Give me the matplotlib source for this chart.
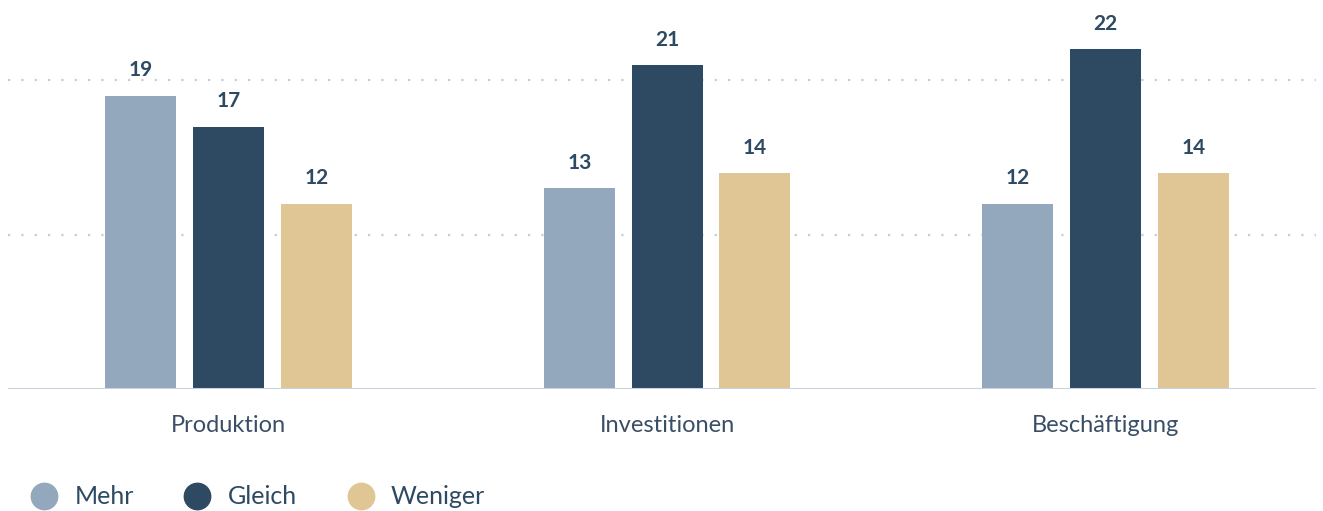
import matplotlib
matplotlib.use("Agg")
import matplotlib.pyplot as plt
from matplotlib.lines import Line2D
import numpy as np

plt.rcParams['font.family'] = ['Lato', 'DejaVu Sans']

categories = ["Produktion", "Investitionen", "Beschäftigung"]
series_names = ["Mehr", "Gleich", "Weniger"]
mehr = [19, 13, 12]
gleich = [17, 21, 22]
weniger = [12, 14, 14]
colors = ["#93a8bc", "#2e4a63", "#e0c595"]
text_color = "#2e4a63"

W, H = 1323, 511
fig = plt.figure(figsize=(W / 100, H / 100), dpi=100)
ax = fig.add_axes([8 / W, (H - 389) / H, 1308 / W, 389 / H])

x = np.arange(len(categories))
width = 0.162
offset = 0.2
for i, (vals, c) in enumerate(zip([mehr, gleich, weniger], colors)):
    pos = x + (i - 1) * offset
    bars = ax.bar(pos, vals, width=width, color=c, zorder=3)
    for b, v in zip(bars, vals):
        ax.annotate(str(v), (b.get_x() + b.get_width() / 2, v),
                    xytext=(0, 11), textcoords="offset points",
                    ha="center", va="bottom", fontsize=15, fontweight="bold",
                    color=text_color)

ax.set_xlim(-0.503, 2.48)
ax.set_ylim(0, 25.2)
for yv in [10, 20]:
    ax.axhline(yv, color="#c5cdd8", linestyle=(0, (1, 5)), linewidth=1.6, zorder=1)
ax.axhline(0, color="#c6d1e2", linewidth=2.2, zorder=4)

for s in ax.spines.values():
    s.set_visible(False)
ax.set_yticks([])
ax.set_xticks(x)
ax.set_xticklabels(categories, fontsize=17, color="#3a4f66")
ax.tick_params(axis="x", length=0, pad=19)

# legend drawn manually in figure pixel positions
leg_y = 1 - 496 / H
for name, c, cx, tx in zip(series_names, colors, [44, 197, 361], [75, 228, 391]):
    fig.add_artist(Line2D([cx / W], [leg_y], marker="o", markersize=19,
                          markerfacecolor=c, markeredgecolor=c,
                          linestyle="none", transform=fig.transFigure))
    fig.text(tx / W, leg_y, name, fontsize=18, color=text_color,
             ha="left", va="center")

fig.savefig("out.png", dpi=100)
